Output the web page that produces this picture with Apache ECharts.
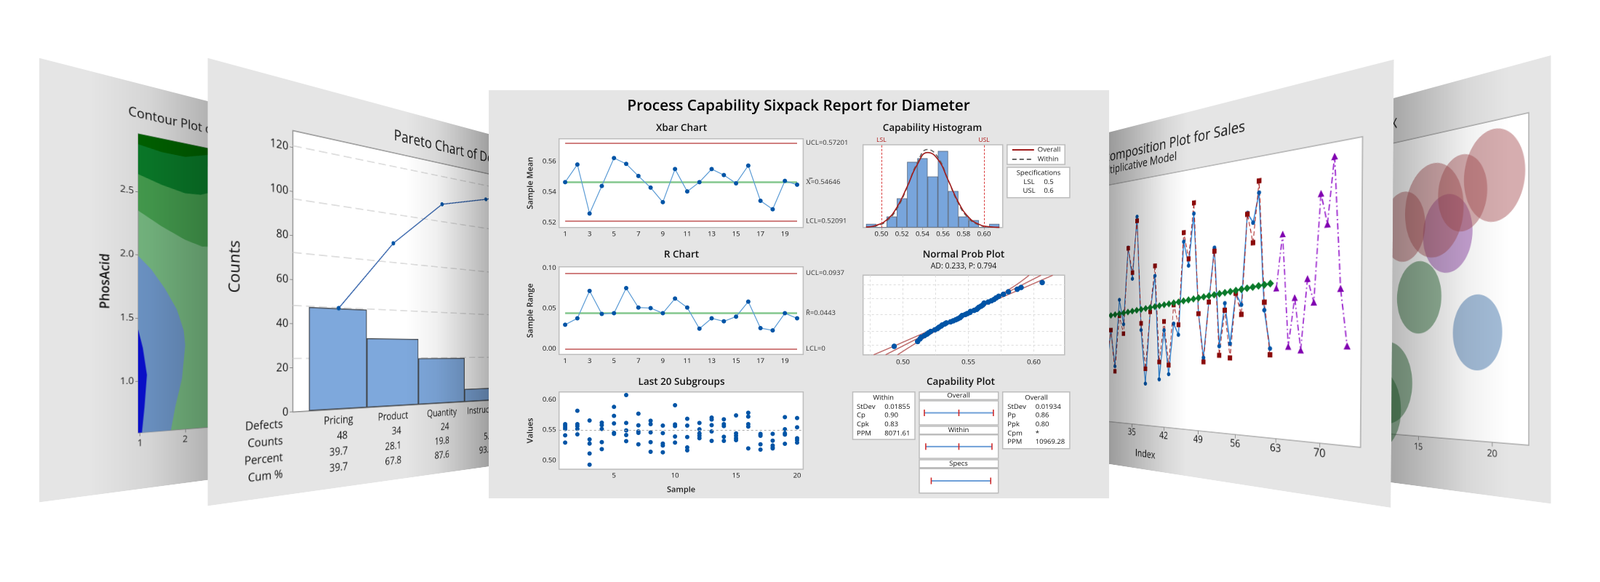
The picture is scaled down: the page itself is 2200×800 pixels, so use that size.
<!DOCTYPE html>
<html>
<head>
<meta charset="utf-8">
<title>Process Capability Sixpack</title>
<script src="https://cdn.jsdelivr.net/npm/echarts@6/dist/echarts.min.js"></script>
<style>
html,body{margin:0;padding:0;background:#fff;overflow:hidden}
#stage{position:relative;width:2200px;height:800px;overflow:hidden}
#stage div.chart{position:absolute;left:0;top:0;transform-origin:0 0}
</style>
</head>
<body>
<div id="stage">
	<div class="chart" id="contour"></div>
	<div class="chart" id="pareto"></div>
	<div class="chart" id="bubble"></div>
	<div class="chart" id="decomp"></div>
	<div class="chart" id="sixpack"></div>
</div>
<script>
var FONT = '"Open Sans"';
var NBSP = '\u00a0';

// ---- xbar / r chart
var sampleNames = ['1','2','3','4','5','6','7','8','9','10','11','12','13','14','15','16','17','18','19','20'];
var xbarValues = [.5464,.5579,.5259,.5439,.5621,.5583,.5504,.5428,.5333,.5549,.5403,.5464,.5549,.5510,.5456,.5572,.5342,.5287,.5472,.5447];
var xbarLimits = [.57201,.54646,.52091];
var xbarLimitLabels = ['UCL=0.57201','X\u033F=0.54646','LCL=0.52091'];
var xbarTicks = [.52,.54,.56];
var rangeValues = [.0297,.0376,.0715,.043,.0439,.075,.0509,.0503,.0439,.0621,.0509,.0248,.0376,.0339,.0397,.0582,.0255,.0227,.0439,.0376];
var rangeLimits = [.0937,.0443,0];
var rangeLimitLabels = ['UCL=0.0937','R\u0304=0.0443','LCL=0'];
var rangeTicks = [0,.05,.10];

// ---- last 20 subgroups
var subgroups = [
	[.5596,.5572,.5544,.5516,.5412,.5292],
	[.5816,.5596,.5564,.5516,.5428],
	[.5656,.5344,.5276,.5112,.4928],
	[.562,.558,.5516,.53,.5184],
	[.588,.5732,.5608,.5452,.5436],
	[.6076,.5616,.5492,.5416,.5316],
	[.5768,.5576,.5476,.5452,.5264],
	[.5652,.5596,.546,.53,.514],
	[.5572,.5448,.5276,.5244,.5132],
	[.5908,.5592,.5564,.5392,.5292],
	[.5684,.5572,.5384,.5212,.5164],
	[.5616,.551,.5444,.5404,.5364],
	[.5704,.5672,.558,.5476,.532],
	[.5676,.5596,.5564,.5388,.532],
	[.574,.5444,.5404,.5364,.5332],
	[.5784,.572,.5596,.5556,.5196],
	[.5436,.542,.5404,.5264,.5176],
	[.5436,.5324,.5244,.5212,.5196],
	[.5712,.5512,.5444,.5424,.5272],
	[.5696,.5544,.5364,.5332,.5292]
];
var subgroupTicks = [.50,.55,.60];
var grandMean = .54646;

// ---- capability histogram
var histBins = [.49,.50,.51,.52,.53,.54,.55,.56,.57,.58,.59,.60,.61];
var histCounts = [1,0,3,8,18,19,14,21,10,3,2,0,1];
var histTicks = [.50,.52,.54,.56,.58,.60];
var curveX = [.485,.495,.505,.515,.525,.535,.545,.555,.565,.575,.585,.595,.605,.615];
var curveOverall = [.13,.60,2.07,5.49,11.15,17.3,20.57,18.7,13.03,6.94,2.83,.88,.21,.04];
var curveWithin = [.09,.46,1.77,5.1,11.0,17.8,21.4,19.3,13.05,6.6,2.5,.7,.15,.02];
var specLimits = [.5,.6];
var specNames = ['LSL','USL'];

// ---- normal probability plot, x is the diameter, z the normal score
var probX = [.4933,.5112,.513,.514,.5164,.5184,.5196,.5212,.5244,.5264,.5276,.5292,.53,.532,.5332,.5364,.5384,.5404,.542,.5436,.5444,.5452,.5476,.5492,.5512,.5516,.5544,.5564,.5572,.558,.5596,.5608,.5616,.562,.5652,.5676,.5696,.5712,.5732,.5768,.5806,.5873,.5903,.6064];
var probZ = [-2.42,-2.05,-1.85,-1.72,-1.6,-1.48,-1.38,-1.28,-1.15,-1.05,-.95,-.86,-.78,-.7,-.62,-.54,-.46,-.38,-.3,-.22,-.14,-.06,.02,.1,.18,.26,.34,.42,.5,.58,.66,.74,.82,.9,.98,1.08,1.18,1.3,1.42,1.58,1.77,1.96,2.1,2.48];
var fitZ = [-3.07,-2,-1,0,1,2,3.04];
var fitMid = [.4867,.5075,.5269,.5463,.5657,.5852,.6055];
var fitLow = [.4776,.5023,.5246,.5449,.564,.582,.5964];
var fitHigh = [.4958,.5127,.5292,.5478,.568,.5907,.6145];
var probXLabels = [.50,.55,.60];
var probXLines = [.475,.5,.525,.55,.575,.6];
var probZLines = [-2.326,-1.282,0,1.282,2.326];

// ---- capability plot
var capOverall = [.48844,.54646,.60448];
var capWithin = [.49081,.54646,.60211];
var capSpecs = [.5,.6];
var withinNames = ['StDev','Cp','Cpk','PPM'];
var withinStats = ['0.01855','0.90','0.83','8071.61'];
var overallNames = ['StDev','Pp','Ppk','Cpm','PPM'];
var overallStats = ['0.01934','0.86','0.80','*','10969.28'];

// ---- pareto
var paretoNames = ['Pricing','Product','Quantity','Instructions','Other'];
var paretoCounts = [48,34,24,7,8];
var paretoPercent = [39.7,28.1,19.8,5.8,6.6];
var paretoCum = [39.7,67.8,87.6,93.4,100];
var paretoRows = ['Defects','Counts','Percent','Cum %'];

// ---- contour, [x,y] boundaries of each level
var contourTop = [[.96,2.877],[1.47,2.851],[2,2.849],[2.73,2.922],[3,2.94]];
var contourUpper = [[.96,2.64],[1.47,2.586],[2,2.547],[2.365,2.555],[2.73,2.605],[3,2.64]];
var contourMiddle = [[.96,2.351],[1.47,2.249],[2,2.161],[2.4,2.12],[2.73,2.13],[3,2.15]];
var contourBlue = [[.96,1.993],[1.242,1.894],[1.542,1.746],[1.81,1.58],[1.966,1.41],[2,1.287],[1.93,1.017],[1.77,.775],[1.675,.59],[.96,.59]];
var contourDeep = [[.96,1.41],[1.06,1.263],[1.148,1.048],[1.095,.789],[1.04,.59],[.96,.59]];
var contourLow = [[2.526,.59],[2.733,.704],[3,.9],[3,.59]];
var contourXTicks = [1,2,3,4,5,6,7,8];
var contourYTicks = [1,1.5,2,2.5];

// ---- decomposition, first index is 29
var firstIndex = 29;
var actualSales = [22,38.7,23.5,51.3,41.1,72.7,59.7,84.9,38.6,16.9,46,60.2,18.9,38.4,21.1,41,36.6,72.6,63.2,82.9,44.7,27.9,49,69.1,32.3,48.2,33.2,51.7,47.4,80.4,76.7,87.1,45.2,31.6];
var fittedSales = [25,38.7,21.4,44.6,37.2,72.4,62.2,83.2,41.3,22.9,45.9,64.2,25.8,41.9,24.7,48.3,40.5,76.1,65.8,87,44.6,26.3,48.9,67.8,28.9,45.6,28,51.7,43.9,80,69.5,91.3,48,29.4];
var trendSales = [44.6,44.9,45.2,45.5,45.8,46.1,46.4,46.7,47,47.3,47.6,47.9,48.2,48.5,48.8,49.1,49.4,49.7,50,50.3,50.6,50.9,51.2,51.5,51.8,52.1,52.4,52.7,53,53.3,53.6,53.9,54.2,54.5];
var firstForecast = 63;
var forecastSales = [52.8,71.5,32.4,49.2,31.2,55.5,47.4,83.7,73.2,95.3,51.6,32.7];

// ---- bubble, [x,y,size]
var bubblesRed = [[13.92,7.08,108],[16.09,7.49,141],[18.05,7.91,112],[20.1,8.3,131]];
var bubblesPurple = [[17.04,6.67,116]];
var bubblesGreen = [[15.03,4.65,110],[12.68,1.77,128],[11.84,.85,128]];
var bubblesBlue = [[19.03,3.43,109]];
var bubbleTicks = [5,10,15,20];

function pair(xs, ys){
	return xs.map(function(x,i){ return [x,ys[i]]; });
}
function indexed(start, ys){
	return ys.map(function(y,i){ return [start+i,y]; });
}

// css matrix that puts a w*h box on the four corners tl,tr,br,bl
function quadMatrix(w,h,q){
	var x0=q[0][0],y0=q[0][1],x1=q[1][0],y1=q[1][1],x2=q[2][0],y2=q[2][1],x3=q[3][0],y3=q[3][1];
	var dx1=x1-x2,dx2=x3-x2,dx3=x0-x1+x2-x3,dy1=y1-y2,dy2=y3-y2,dy3=y0-y1+y2-y3;
	var det=dx1*dy2-dx2*dy1;
	var g=(dx3*dy2-dx2*dy3)/det,k=(dx1*dy3-dx3*dy1)/det;
	var a=x1-x0+g*x1,b=x3-x0+k*x3,d=y1-y0+g*y1,e=y3-y0+k*y3;
	return 'matrix3d('+[a/w,d/w,0,g/w,b/h,e/h,0,k/h,0,0,1,0,x0,y0,0,1].join(',')+')';
}
function makeChart(id,w,h,quad){
	var el=document.getElementById(id);
	el.style.width=w+'px';
	el.style.height=h+'px';
	if(quad) el.style.transform=quadMatrix(w,h,quad);
	return echarts.init(el,null,{width:w,height:h,devicePixelRatio:2});
}
function txt(x,y,s,size,extra){
	var style={text:s,fontSize:size,fontFamily:FONT,fill:'#111',align:'center',verticalAlign:'middle'};
	for(var k in (extra||{})) style[k]=extra[k];
	return {type:'text',x:x,y:y,z:50,silent:true,style:style};
}
function shade(w,h,stops){
	return {type:'rect',z:100,silent:true,shape:{x:0,y:0,width:w,height:h},
		style:{fill:new echarts.graphic.LinearGradient(0,0,1,0,stops.map(function(s){
			return {offset:s[0],color:'rgba(0,0,0,'+s[1]+')'};
		}))}};
}
function poly(points,color){
	return {type:'custom',coordinateSystem:'cartesian2d',data:[0],silent:true,clip:true,
		renderItem:function(p,api){
			return {type:'polygon',shape:{points:points.map(function(c){return api.coord(c);})},style:{fill:color}};
		}};
}
function upTo(line,top){
	return line.concat([[line[line.length-1][0],top],[line[0][0],top]]);
}

// ---------------------------------------- contour panel
(function(){
	var W=958,H=600,top=2.96,low=.59;
	var myChart=makeChart('contour',W,H,[[54,79.8],[700,245.2],[700,605],[54,690.5]]);
	myChart.setOption({
		backgroundColor:'#e5e5e5',
		animation:false,
		grid:{left:130,top:74.4,width:480,height:442.3,show:true,backgroundColor:'#78bb83',borderColor:'#999',borderWidth:1},
		xAxis:{type:'value',min:.96,max:8,
			axisLine:{show:false},splitLine:{show:false},
			axisTick:{length:5,lineStyle:{color:'#888'},customValues:contourXTicks},
			axisLabel:{customValues:contourXTicks,fontFamily:FONT,fontSize:14,color:'#222',margin:9}},
		yAxis:{type:'value',min:low,max:top,name:'PhosAcid',nameLocation:'middle',nameGap:29,
			nameTextStyle:{fontFamily:FONT,fontSize:18,fontWeight:600,color:'#111'},
			axisLine:{show:false},splitLine:{show:false},
			axisTick:{length:4,lineStyle:{color:'#888'},customValues:contourYTicks},
			axisLabel:{customValues:contourYTicks,fontFamily:FONT,fontSize:14,color:'#222',margin:6,
				formatter:function(v){return v.toFixed(1);}}},
		series:[
			poly(upTo(contourMiddle,top),'#46a050'),
			poly(upTo(contourUpper,top),'#0a7d2a'),
			poly(upTo(contourTop,top),'#006400'),
			poly(contourLow,'#4e9a5e'),
			poly(contourBlue,'#7099cc'),
			poly(contourDeep,'#0a10d4')
		],
		graphic:[
			txt(116,45,'Contour Plot of Yield',19,{align:'left'}),
			shade(W,H,[[0,0],[.066,0],[.153,.07],[.247,.22],[1,.4]])
		]
	});
})();

// ---------------------------------------- pareto panel
(function(){
	var W=850,H=600,countMax=127.7,pctMax=105.5;
	var myChart=makeChart('pareto',W,H,[[285.6,79.8],[838,229],[838,618],[285.6,695.5]]);
	var rows=paretoRows.map(function(r,i){
		return txt(108,498+i*24,r,16,{align:'right'});
	});
	myChart.setOption({
		backgroundColor:'#e5e5e5',
		animation:false,
		grid:[
			{left:123.5,top:72,width:700,height:408.7,show:true,backgroundColor:'#fff',borderColor:'#8a8a8a',borderWidth:1.5},
			{left:149,top:72,width:500,height:408.7}
		],
		xAxis:[
			{gridIndex:0,type:'value',min:0,max:1,show:false},
			{gridIndex:1,type:'category',data:paretoNames,
				axisLine:{show:false},
				axisTick:{alignWithLabel:true,length:4,lineStyle:{color:'#888'}},
				axisLabel:{interval:0,margin:5,lineHeight:24,fontFamily:FONT,fontSize:16,color:'#111',
					formatter:function(v,i){
						// short numbers sit to the right in the table
						var count=(paretoCounts[i]<10?NBSP+NBSP+NBSP+NBSP+NBSP+NBSP:NBSP+NBSP+NBSP)+paretoCounts[i];
						var pct=(paretoPercent[i]<10?NBSP+NBSP+NBSP:'')+paretoPercent[i].toFixed(1);
						return [v,count,pct,paretoCum[i].toFixed(1)].join('\n');
					}}}
		],
		yAxis:[
			{gridIndex:0,type:'value',min:0,max:countMax,interval:20,name:'Counts',nameLocation:'middle',nameGap:75,
				nameTextStyle:{fontFamily:FONT,fontSize:22,fontWeight:500,color:'#111'},
				axisLine:{show:false},splitLine:{show:false},
				axisTick:{length:5,lineStyle:{color:'#888'}},
				axisLabel:{showMaxLabel:false,fontSize:16.5,margin:7,fontFamily:FONT,color:'#111'}},
			{gridIndex:0,type:'value',min:0,max:pctMax,interval:20,position:'right',
				axisLine:{show:false},axisTick:{show:false},axisLabel:{show:false},
				splitLine:{showMaxLine:false,showMinLine:false,lineStyle:{color:'#d4d4d4',type:[14,7],width:1.5}}},
			{gridIndex:1,type:'value',min:0,max:countMax,show:false},
			{gridIndex:1,type:'value',min:0,max:pctMax,show:false}
		],
		series:[
			{name:'Counts',type:'bar',xAxisIndex:1,yAxisIndex:2,data:paretoCounts,barWidth:'100%',
				itemStyle:{color:'#7ea8dc',borderColor:'#44494f',borderWidth:1.5}},
			{name:'Cum %',type:'line',xAxisIndex:1,yAxisIndex:3,data:paretoCum,symbol:'circle',symbolSize:7,
				lineStyle:{color:'#1a4fa0',width:1.5},itemStyle:{color:'#0054a6'}}
		],
		graphic:rows.concat([
			txt(300,44,'Pareto Chart of Defects',25,{align:'left'}),
			shade(W,H,[[0,0],[.38,0],[.456,.06],[.53,.18],[.596,.3],[1,.5]])
		])
	});
})();

// ---------------------------------------- bubble panel
(function(){
	var W=1110,H=600;
	var myChart=makeChart('bubble',W,H,[[1500,248.2],[2133,75.9],[2133,692.5],[1500,608.5]]);
	function bubbles(list,color){
		return {type:'scatter',data:list,clip:true,
			symbolSize:function(d){return [d[2]*.733,d[2]];},
			itemStyle:{color:color,opacity:.47}};
	}
	myChart.setOption({
		backgroundColor:'#e5e5e5',
		animation:false,
		grid:{left:597.5,right:32,top:70.2,height:454.1,show:true,backgroundColor:'#fff',borderColor:'#aaa',borderWidth:1.5},
		xAxis:{type:'value',min:3,max:22.23,axisLine:{show:false},splitLine:{show:false},
			axisTick:{length:6,lineStyle:{color:'#888'},customValues:bubbleTicks},
			axisLabel:{customValues:bubbleTicks,fontFamily:FONT,fontSize:14,color:'#222',margin:9}},
		yAxis:{type:'value',min:0,max:10,show:false},
		series:[
			bubbles(bubblesGreen,'#1f672d'),
			bubbles(bubblesBlue,'#3b71a9'),
			bubbles(bubblesPurple,'#8739a1'),
			bubbles(bubblesRed,'#a75155')
		],
		graphic:[
			txt(858,41,'Bubble Plot of Y vs X',22,{align:'right'}),
			shade(W,H,[[0,.5],[.768,.27],[.839,.14],[.884,.06],[.944,0],[1,0]])
		]
	});
})();

// ---------------------------------------- decomposition panel
(function(){
	var W=942,H=600;
	var myChart=makeChart('decomp',W,H,[[1322.6,233.6],[1917,81.8],[1912.5,698],[1322,606.4]]);
	myChart.setOption({
		backgroundColor:'#e5e5e5',
		animation:false,
		grid:{left:140,right:42,top:95,height:428,show:true,backgroundColor:'#fff',borderColor:'#aaa',borderWidth:1.5},
		xAxis:{type:'value',min:0,max:76,interval:7,name:'Index',nameLocation:'middle',nameGap:42,
			nameTextStyle:{fontFamily:FONT,fontSize:17,color:'#111'},
			axisLine:{show:false},splitLine:{show:false},
			axisTick:{length:6,lineStyle:{color:'#888'}},
			axisLabel:{showMaxLabel:false,fontFamily:FONT,fontSize:16,color:'#111',margin:7}},
		yAxis:{type:'value',min:0,max:100,axisLine:{show:false},axisTick:{show:false},axisLabel:{show:false},splitLine:{show:false}},
		series:[
			{name:'Actual',type:'line',data:indexed(firstIndex,actualSales),symbol:'circle',symbolSize:7,
				lineStyle:{color:'#2f86d8',width:2},itemStyle:{color:'#0054a6'}},
			{name:'Fits',type:'line',data:indexed(firstIndex,fittedSales),symbol:'rect',symbolSize:8,
				lineStyle:{color:'#a82020',width:1.4,type:[7,4]},itemStyle:{color:'#8b0a0a'}},
			{name:'Trend',type:'line',data:indexed(firstIndex,trendSales),symbol:'diamond',symbolSize:12,
				lineStyle:{color:'#0a7a2a',width:1.5},itemStyle:{color:'#0a7a2a'}},
			{name:'Forecasts',type:'line',data:indexed(firstForecast,forecastSales),symbol:'triangle',symbolSize:10,
				lineStyle:{color:'#a030d0',width:2,type:[9,4,2,4]},itemStyle:{color:'#8000b0'}}
		],
		graphic:[
			txt(715,45,'Time Series Decomposition Plot for Sales',24,{align:'right'}),
			txt(585,69,'Multiplicative Model',19.5,{align:'right'}),
			shade(W,H,[[0,.5],[.46,.33],[.528,.2],[.6,.06],[.644,0],[1,0]])
		]
	});
})();

// ---------------------------------------- the sixpack in front
(function(){
	var myChart=makeChart('sixpack',2200,800);
	var frame={show:true,backgroundColor:'#fff',borderColor:'#bdbdbd',borderWidth:1.5};
	var tickFont={fontFamily:FONT,fontSize:9.5,fontWeight:500,color:'#111'};
	var grids=[],xs=[],ys=[],series=[];

	function addGrid(left,top,right,bottom){
		grids.push(Object.assign({left:left,top:top,width:right-left,height:bottom-top},frame));
		return grids.length-1;
	}
	function yAxisOf(i,min,max,ticks,name,gap){
		return {gridIndex:i,type:'value',min:min,max:max,name:name,nameLocation:'middle',nameGap:gap,
			nameTextStyle:{fontFamily:FONT,fontSize:11,fontWeight:600,color:'#222'},
			axisLine:{show:false},splitLine:{show:false},
			axisTick:{length:3,lineStyle:{color:'#aaa'},customValues:ticks},
			axisLabel:Object.assign({customValues:ticks,margin:4,formatter:function(v){return v.toFixed(2);}},tickFont)};
	}
	function limitLine(v,label,color,width){
		return [{coord:[0,v],lineStyle:{color:color,width:width,type:'solid'},label:{formatter:label}},{coord:[19,v]}];
	}
	function controlChart(i,values,limits,labels){
		series.push({type:'line',xAxisIndex:i,yAxisIndex:i,data:values,symbol:'circle',symbolSize:6,
			lineStyle:{color:'#5b9bd5',width:1.2},itemStyle:{color:'#0054a6'},z:5,
			markLine:{silent:true,symbol:'none',animation:false,
				label:{position:'end',distance:12,fontFamily:FONT,fontSize:9.5,fontWeight:500,color:'#333'},
				data:[limitLine(limits[0],labels[0],'#d08080',2),limitLine(limits[1],labels[1],'#84c78e',2.5),limitLine(limits[2],labels[2],'#d08080',2)]}});
	}
	function catAxis(i,every){
		return {gridIndex:i,type:'category',data:sampleNames,
			axisLine:{show:false},
			axisTick:{alignWithLabel:true,length:3,interval:every,lineStyle:{color:'#aaa'}},
			axisLabel:Object.assign({interval:every,margin:4},tickFont)};
	}

	// xbar
	var g=addGrid(768.7,190.7,1104.4,312.7);
	xs.push(catAxis(g,1)); ys.push(yAxisOf(g,.5168,.5747,xbarTicks,'Sample Mean',34));
	controlChart(g,xbarValues,xbarLimits,xbarLimitLabels);

	// r chart
	g=addGrid(768.7,366.7,1104.4,487.3);
	xs.push(catAxis(g,1)); ys.push(yAxisOf(g,-.0072,.1014,rangeTicks,'Sample Range',34));
	controlChart(g,rangeValues,rangeLimits,rangeLimitLabels);

	// last 20
	g=addGrid(768.7,538.7,1104.4,645);
	var lastAxis=catAxis(g,function(idx,v){return Number(v)%5===0;});
	lastAxis.name='Sample';lastAxis.nameLocation='middle';lastAxis.nameGap=23;
	lastAxis.nameTextStyle={fontFamily:FONT,fontSize:11,fontWeight:600,color:'#222'};
	lastAxis.axisTick.show=false;
	xs.push(lastAxis); ys.push(yAxisOf(g,.4853,.6127,subgroupTicks,'Values',34));
	var points=[];
	subgroups.forEach(function(list,i){
		list.forEach(function(v){ points.push([i,v]); });
	});
	series.push({type:'scatter',xAxisIndex:g,yAxisIndex:g,data:points,symbolSize:6,itemStyle:{color:'#0054a6',opacity:1},
		markLine:{silent:true,symbol:'none',animation:false,label:{show:false},
			lineStyle:{color:'#aaa',type:[3,3],width:1},data:[{yAxis:grandMean}]}});

	// histogram
	g=addGrid(1186.7,199,1378.7,312.7);
	xs.push({gridIndex:g,type:'value',min:.4821,max:.6182,
		axisLine:{show:false},splitLine:{show:false},
		axisTick:{length:3,lineStyle:{color:'#aaa'},customValues:histTicks},
		axisLabel:Object.assign({customValues:histTicks,margin:4,formatter:function(v){return v.toFixed(2);}},tickFont)});
	ys.push({gridIndex:g,type:'value',min:0,max:22.7,show:false});
	series.push({type:'bar',xAxisIndex:g,yAxisIndex:g,data:pair(histBins,histCounts),barWidth:14.1,
		itemStyle:{color:'#78a5dc',borderColor:'#5a6a80',borderWidth:.8},
		markLine:{silent:true,symbol:'none',animation:false,
			lineStyle:{color:'#d83a3a',type:[3,2],width:1},
			label:{position:'end',distance:2,fontFamily:FONT,fontSize:8.5,color:'#b01818'},
			data:specLimits.map(function(v,i){ return {xAxis:v,label:{formatter:specNames[i]}}; })}});
	series.push({name:'Within',type:'line',xAxisIndex:g,yAxisIndex:g,data:pair(curveX,curveWithin),smooth:true,symbol:'none',
		lineStyle:{color:'#666',width:1.6,type:[6,4]},itemStyle:{color:'#666'}});
	series.push({name:'Overall',type:'line',xAxisIndex:g,yAxisIndex:g,data:pair(curveX,curveOverall),smooth:true,symbol:'none',
		lineStyle:{color:'#a01c1c',width:1.6},itemStyle:{color:'#a01c1c'}});

	// normal probability
	g=addGrid(1186.7,378.3,1463.8,487.7);
	xs.push({gridIndex:g,type:'value',min:.4695,max:.6235,
		axisLine:{show:false},
		axisTick:{show:false,customValues:probXLines},
		splitLine:{show:true,lineStyle:{color:'#ddd',type:[3,3]}},
		axisLabel:Object.assign({customValues:probXLabels,margin:5,formatter:function(v){return v.toFixed(2);}},tickFont)});
	ys.push({gridIndex:g,type:'value',min:-3.07,max:3.04,
		axisLine:{show:false},axisLabel:{show:false},
		axisTick:{show:false,customValues:probZLines},
		splitLine:{show:true,lineStyle:{color:'#ddd',type:[3,3]}}});
	[fitMid,fitLow,fitHigh].forEach(function(line){
		series.push({type:'line',xAxisIndex:g,yAxisIndex:g,data:pair(line,fitZ),smooth:true,symbol:'none',
			lineStyle:{color:'#c06f6f',width:1.5}});
	});
	series.push({type:'scatter',xAxisIndex:g,yAxisIndex:g,data:pair(probX,probZ),symbolSize:7.5,z:6,itemStyle:{color:'#0054a6',opacity:1}});

	// capability plot strips
	[[551,584,capOverall],[597.7,630,capWithin],[644.3,677.7,capSpecs]].forEach(function(s){
		g=addGrid(1264,s[0],1372.7,s[1]);
		xs.push({gridIndex:g,type:'value',min:.4799,max:.6128,show:false});
		ys.push({gridIndex:g,type:'value',min:-1,max:1,show:false});
		series.push({type:'line',xAxisIndex:g,yAxisIndex:g,data:s[2].map(function(v){return [v,0];}),
			symbol:'rect',symbolSize:[1.6,9],itemStyle:{color:'#d02c2c'},lineStyle:{color:'#6fa0d8',width:2}});
	});

	function box(x,y,w,h){
		return {type:'rect',z:3,silent:true,shape:{x:x,y:y,width:w,height:h},style:{fill:'#fff',stroke:'#bdbdbd',lineWidth:1.5}};
	}
	var head={fontWeight:600};
	var graphics=[
		{type:'rect',z:-1,silent:true,shape:{x:672,y:124,width:853,height:561},style:{fill:'#e5e5e5'}},
		txt(1098,146,'Process Capability Sixpack Report for Diameter',20.8,{fontWeight:600,fill:'#000'}),
		txt(937,176,'Xbar Chart',13.5,head),
		txt(1282,176,'Capability Histogram',13.5,head),
		txt(937,350,'R Chart',13.5,head),
		txt(1325,350,'Normal Prob Plot',13.5,head),
		txt(1325,366,'AD: 0.233, P: 0.794',10.5,{fontWeight:500}),
		txt(937,525,'Last 20 Subgroups',13.5,head),
		txt(1321,525,'Capability Plot',13.5,head),
		// specifications box
		box(1384.8,230,86.1,41.7),
		txt(1428,238,'Specifications',9.5,{fontWeight:500}),
		txt(1415,250.3,specNames[0],9.5,{fontWeight:500}),txt(1442,250.3,String(specLimits[0]),9.5,{fontWeight:500}),
		txt(1415,262.3,specNames[1],9.5,{fontWeight:500}),txt(1442,262.3,String(specLimits[1]),9.5,{fontWeight:500}),
		// capability stats
		box(1172.5,538.7,85.5,65.3),
		box(1378.7,538.7,92.2,78),
		txt(1214.7,546.7,'Within',9.5,{fontWeight:500}),
		txt(1425,546.7,'Overall',9.5,{fontWeight:500}),
		// strip headers
		box(1264,538.7,108.7,10.6),box(1264,586,108.7,10.7),box(1264,632,108.7,10.7),
		txt(1318,544,'Overall',9.5,{fontWeight:500}),txt(1318,591.3,'Within',9.5,{fontWeight:500}),txt(1318,637.3,'Specs',9.5,{fontWeight:500})
	];
	var rowY=[559.3,571,583.3,595.7,607.3];
	withinNames.forEach(function(n,i){
		graphics.push(txt(1178,rowY[i],n,9.5,{align:'left',fontWeight:500}));
		graphics.push(txt(1216.3,rowY[i],withinStats[i],9.5,{align:'left',fontWeight:500}));
	});
	overallNames.forEach(function(n,i){
		graphics.push(txt(1385.3,rowY[i],n,9.5,{align:'left',fontWeight:500}));
		graphics.push(txt(1423.7,rowY[i],overallStats[i],9.5,{align:'left',fontWeight:500}));
	});

	myChart.setOption({
		animation:false,
		legend:{data:['Overall','Within'],orient:'vertical',left:1384.8,top:199,itemWidth:30,itemHeight:10,itemGap:3,
			padding:[2,6,2,6],backgroundColor:'#fff',borderColor:'#bdbdbd',borderWidth:1.5,selectedMode:false,
			itemStyle:{opacity:0},
			textStyle:{fontFamily:FONT,fontSize:9.5,fontWeight:500,color:'#222'}},
		grid:grids,xAxis:xs,yAxis:ys,series:series,graphic:graphics
	});
})();
</script>
</body>
</html>
